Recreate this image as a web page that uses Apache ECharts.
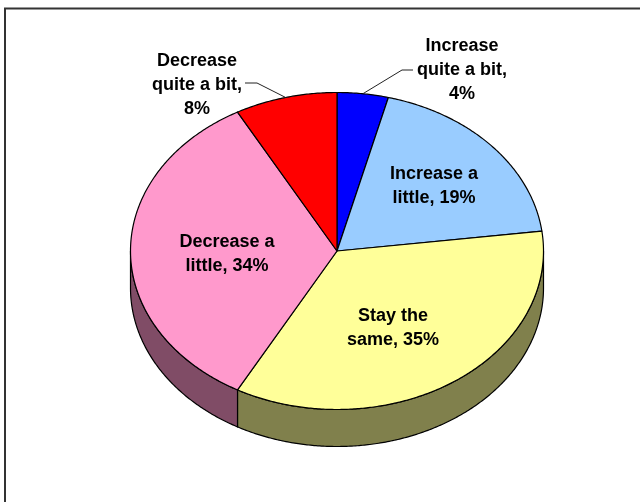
<!DOCTYPE html>
<html><head><meta charset="utf-8">
<script src="https://cdn.jsdelivr.net/npm/echarts@6/dist/echarts.min.js"></script>
<style>html,body{margin:0;padding:0;background:#fff}#c{width:640px;height:502px}</style>
</head><body><div id="c"></div>
<script>
// ---- data ----
const categories = ['Increase quite a bit', 'Increase a little', 'Stay the same', 'Decrease a little', 'Decrease quite a bit'];
const values = [4, 19, 35, 34, 8];
// label wording split into lines (text only)
const categoryLines = [['Increase', 'quite a bit'], ['Increase a', 'little'], ['Stay the', 'same'], ['Decrease a', 'little'], ['Decrease', 'quite a bit']];
const valueOnOwnLine = [true, false, false, false, true];

// ---- styles / layout ----
const topColors = ['#0000FF', '#99CCFF', '#FFFF99', '#FF99CC', '#FF0000'];
const sideColors = ['#000080', '#4C6680', '#80804C', '#804C66', '#800000'];
const geo = { cx: 337, cy: 251, rx: 206.5, ry: 158.5, depth: 37 };
const labelLayout = [
  { x: 462, y: 70.5, leader: [[413, 70], [402, 70]] },
  { x: 434, y: 186 },
  { x: 393, y: 328.5 },
  { x: 227, y: 254 },
  { x: 197, y: 85, leader: [[245, 83], [257, 83]] }
];

const total = values.reduce((a, b) => a + b, 0);
const starts = [];
values.reduce((acc, v) => { starts.push(acc); return acc + v; }, 0);

function pt(t, dy) {
  return [geo.cx + geo.rx * Math.sin(t), geo.cy - geo.ry * Math.cos(t) + (dy || 0)];
}
function arc(a1, a2, dy) {
  const pts = [];
  const n = Math.max(2, Math.ceil(Math.abs(a2 - a1) / (Math.PI / 360)));
  for (let k = 0; k <= n; k++) pts.push(pt(a1 + (a2 - a1) * k / n, dy));
  return pts;
}

function labelText(i) {
  const l = categoryLines[i].slice();
  const last = l.length - 1;
  if (valueOnOwnLine[i]) { l[last] += ','; l.push(values[i] + '%'); }
  else { l[last] += ', ' + values[i] + '%'; }
  return l.join('\n');
}

const chart = echarts.init(document.getElementById('c'), null, { renderer: 'canvas' });
chart.setOption({
  backgroundColor: '#ffffff',
  animation: false,
  graphic: [{
    type: 'rect', shape: { x: 5, y: 8.5, width: 700, height: 600 },
    style: { fill: 'none', stroke: '#333', lineWidth: 2 }, z: 0
  }],
  series: [{
    type: 'custom',
    coordinateSystem: 'none',
    data: values.map((v, i) => ({ name: categories[i], value: [v, starts[i]] })),
    renderItem: function (params, api) {
      const i = params.dataIndex;
      const v = api.value(0), s = api.value(1);
      const a1 = s / total * 2 * Math.PI;
      const a2 = (s + v) / total * 2 * Math.PI;
      const children = [];
      // side wall (front half only)
      const lo = Math.max(a1, Math.PI / 2), hi = Math.min(a2, 3 * Math.PI / 2);
      if (hi > lo) {
        const pts = arc(lo, hi, 0).concat(arc(hi, lo, geo.depth));
        children.push({
          type: 'polygon', shape: { points: pts }, z2: 1,
          style: { fill: sideColors[i], stroke: '#000', lineWidth: 1.2, lineJoin: 'round' }
        });
      }
      // top face
      const topPts = [[geo.cx, geo.cy]].concat(arc(a1, a2, 0));
      children.push({
        type: 'polygon', shape: { points: topPts }, z2: 5,
        style: { fill: topColors[i], stroke: '#000', lineWidth: 1.2, lineJoin: 'round' }
      });
      // leader line
      const lay = labelLayout[i];
      if (lay.leader) {
        const edge = pt((a1 + a2) / 2, 0);
        children.push({
          type: 'polyline', shape: { points: lay.leader.concat([edge]) }, z2: 8,
          style: { fill: 'none', stroke: '#222', lineWidth: 1 }
        });
      }
      // label
      children.push({
        type: 'text', z2: 10,
        style: {
          text: labelText(i), x: lay.x, y: lay.y,
          fill: '#000', fontSize: 18, fontWeight: 'bold',
          fontFamily: '"Liberation Sans", Arial, sans-serif',
          align: 'center', verticalAlign: 'middle', lineHeight: 24
        }
      });
      return { type: 'group', children: children };
    }
  }]
});
</script></body></html>
